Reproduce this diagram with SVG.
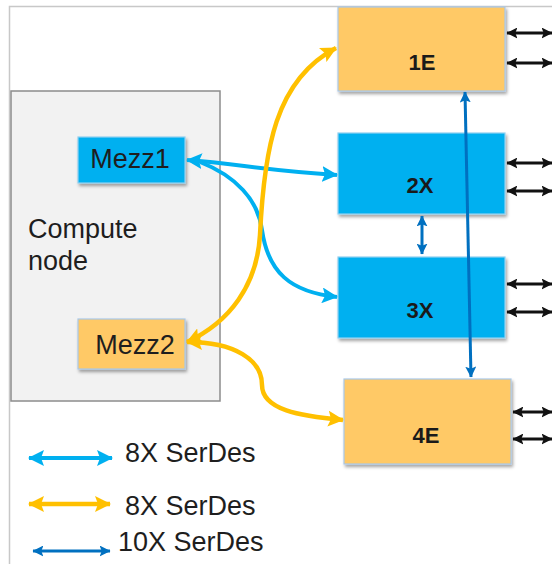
<svg xmlns="http://www.w3.org/2000/svg" width="552" height="564" viewBox="0 0 552 564">
  <style>
    .lbl { font-family: "Liberation Sans", Arial, sans-serif; font-size: 27px; fill: #1e1e1e; }
    .blk { font-family: "Liberation Sans", Arial, sans-serif; font-size: 22px; font-weight: bold; fill: #1a1a1a; text-anchor: middle; }
    .org { fill: #ffc966; stroke: #a9c8e8; stroke-width: 1.2; }
    .cyn { fill: #00b0f0; stroke: #8fd0f0; stroke-width: 1.2; }
    .c-cyan { fill: none; stroke: #00b0f0; stroke-width: 4; }
    .c-org { fill: none; stroke: #ffc000; stroke-width: 4.5; }
    .c-blue { fill: none; stroke: #0070c0; stroke-width: 3; }
    .c-blk { fill: none; stroke: #111; stroke-width: 3; }
  </style>
  <defs>
    <filter id="sh" x="-10%" y="-10%" width="130%" height="130%">
      <feDropShadow dx="1.5" dy="2.5" stdDeviation="1.5" flood-color="#000" flood-opacity="0.35"/>
    </filter>
    <marker id="mc" viewBox="0 0 16 16" refX="15" refY="8" markerWidth="16" markerHeight="16" markerUnits="userSpaceOnUse" orient="auto-start-reverse">
      <path d="M0,0 L16,8 L0,16 L3,8 z" fill="#00b0f0"/>
    </marker>
    <marker id="mo" viewBox="0 0 16 16" refX="15" refY="8" markerWidth="16" markerHeight="16" markerUnits="userSpaceOnUse" orient="auto-start-reverse">
      <path d="M0,0 L16,8 L0,16 L3,8 z" fill="#ffc000"/>
    </marker>
    <marker id="mb" viewBox="0 0 10 10" refX="9.5" refY="5" markerWidth="11" markerHeight="11" markerUnits="userSpaceOnUse" orient="auto-start-reverse">
      <path d="M0,0 L10,5 L0,10 L2,5 z" fill="#0070c0"/>
    </marker>
    <marker id="mk" viewBox="0 0 10 10" refX="9.5" refY="5" markerWidth="11" markerHeight="11" markerUnits="userSpaceOnUse" orient="auto-start-reverse">
      <path d="M0,0 L10,5 L0,10 L2,5 z" fill="#111"/>
    </marker>
  </defs>

  <rect width="552" height="564" fill="#fff"/>
  <!-- outer frame -->
  <path d="M9.5,564 V6.5 H552" fill="none" stroke="#c8c8c8" stroke-width="1.5"/>

  <g id="compute-node">
    <rect x="11" y="91" width="209" height="310" fill="#f2f2f2" stroke="#8c8c8c" stroke-width="1.5"/>
    <text class="lbl" x="28" y="238" fill="#333">Compute</text>
    <text class="lbl" x="28" y="270" fill="#333">node</text>
  </g>

  <g id="mezz1">
    <rect class="cyn" x="78" y="137" width="107" height="46" filter="url(#sh)"/>
    <text class="lbl" x="130" y="168" text-anchor="middle">Mezz1</text>
  </g>
  <g id="mezz2">
    <rect class="org" x="78" y="319" width="107" height="50" filter="url(#sh)"/>
    <text class="lbl" x="135" y="354" text-anchor="middle">Mezz2</text>
  </g>

  <g id="n1E">
    <rect class="org" x="338" y="7" width="167" height="84" filter="url(#sh)"/>
    <text class="blk" x="422" y="70">1E</text>
  </g>
  <g id="n2X">
    <rect class="cyn" x="338" y="133" width="167" height="81" filter="url(#sh)"/>
    <text class="blk" x="420" y="193">2X</text>
  </g>
  <g id="n3X">
    <rect class="cyn" x="338" y="257" width="167" height="81" filter="url(#sh)"/>
    <text class="blk" x="420" y="318">3X</text>
  </g>
  <g id="n4E">
    <rect class="org" x="344" y="379" width="167" height="85" filter="url(#sh)"/>
    <text class="blk" x="426" y="443">4E</text>
  </g>

  <g id="connectors">
    <!-- cyan -->
    <path class="c-cyan" d="M187,160 C240,164 260,170 337,175" marker-start="url(#mc)" marker-end="url(#mc)"/>
    <path class="c-cyan" d="M200,162 C236,176 258,200 262,230 C268,272 290,292 337,297" marker-end="url(#mc)"/>
    <!-- orange -->
    <path class="c-org" d="M187,342 C230,322 257,285 260,235 C264,150 275,80 336,48" marker-start="url(#mo)" marker-end="url(#mo)"/>
    <path class="c-org" d="M187,342 C235,342 262,360 262,385 C262,410 300,416 343,420" marker-start="url(#mo)" marker-end="url(#mo)"/>
    <!-- dark blue -->
    <path class="c-blue" d="M465,92 L471,377" marker-start="url(#mb)" marker-end="url(#mb)"/>
    <path class="c-blue" d="M422,216 L422,254" marker-start="url(#mb)" marker-end="url(#mb)"/>
    <!-- black external links -->
    <path class="c-blk" d="M507,33 H552" marker-start="url(#mk)" marker-end="url(#mk)"/>
    <path class="c-blk" d="M507,63 H552" marker-start="url(#mk)" marker-end="url(#mk)"/>
    <path class="c-blk" d="M507,163 H552" marker-start="url(#mk)" marker-end="url(#mk)"/>
    <path class="c-blk" d="M507,191 H552" marker-start="url(#mk)" marker-end="url(#mk)"/>
    <path class="c-blk" d="M507,284 H552" marker-start="url(#mk)" marker-end="url(#mk)"/>
    <path class="c-blk" d="M507,312 H552" marker-start="url(#mk)" marker-end="url(#mk)"/>
    <path class="c-blk" d="M513,412 H552" marker-start="url(#mk)" marker-end="url(#mk)"/>
    <path class="c-blk" d="M513,439 H552" marker-start="url(#mk)" marker-end="url(#mk)"/>
  </g>

  <g id="legend">
    <path class="c-cyan" d="M29,458 H112" marker-start="url(#mc)" marker-end="url(#mc)"/>
    <text class="lbl" x="125" y="462">8X SerDes</text>
    <path class="c-org" d="M29,504 H110" marker-start="url(#mo)" marker-end="url(#mo)"/>
    <text class="lbl" x="125" y="515">8X SerDes</text>
    <path class="c-blue" d="M33,551 H110" marker-start="url(#mb)" marker-end="url(#mb)"/>
    <text class="lbl" x="118" y="551">10X SerDes</text>
  </g>
</svg>
